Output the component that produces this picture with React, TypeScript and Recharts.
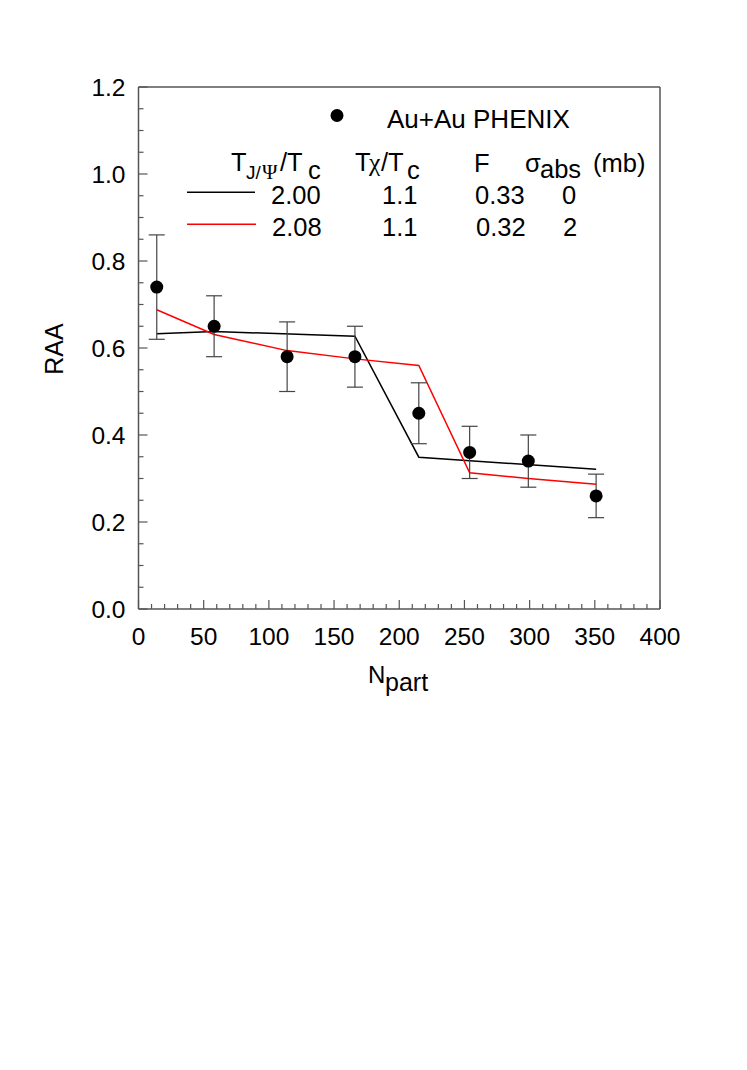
import React from "react";
import { ComposedChart, Line, Scatter, XAxis, YAxis, ErrorBar } from "recharts";

// ---- data ----
const nPart = [14, 58, 114, 166, 215, 254, 299, 351];
const raa = [0.74, 0.65, 0.58, 0.58, 0.45, 0.36, 0.34, 0.26];
const raaHigh = [0.86, 0.72, 0.66, 0.65, 0.52, 0.42, 0.4, 0.31];
const raaLow = [0.62, 0.58, 0.5, 0.51, 0.38, 0.3, 0.28, 0.21];

const blackN = [14, 58, 166, 215, 351];
const blackR = [0.633, 0.638, 0.627, 0.349, 0.321];

const redN = [14, 58, 114, 166, 215, 254, 299, 351];
const redR = [0.688, 0.631, 0.594, 0.575, 0.56, 0.313, 0.3, 0.287];

const xMajorTicks = [0, 50, 100, 150, 200, 250, 300, 350, 400];
const xTickLabels = ["0", "50", "100", "150", "200", "250", "300", "350", "400"];
const yMajorTicks = [0, 0.2, 0.4, 0.6, 0.8, 1.0, 1.2];
const yTickLabels = ["0.0", "0.2", "0.4", "0.6", "0.8", "1.0", "1.2"];
const xMinorStep = 10;
const yMinorStep = 0.05;

// ---- derived tables ----
const points = nPart.map((n, i) => ({
  n,
  r: raa[i],
  err: [raa[i] - raaLow[i], raaHigh[i] - raa[i]],
}));
const blackLine = blackN.map((n, i) => ({ n, r: blackR[i] }));
const redLine = redN.map((n, i) => ({ n, r: redR[i] }));

const xAllTicks: number[] = [];
for (let v = 0; v <= 400 + 1e-9; v += xMinorStep) xAllTicks.push(Math.round(v));
const yAllTicks: number[] = [];
for (let k = 0; k <= 24; k++) yAllTicks.push(Math.round(k * yMinorStep * 1000) / 1000);

const FONT = "'Liberation Sans', Arial, Helvetica, sans-serif";
const SERIF = "'Liberation Serif', 'DejaVu Serif', serif";
const AXIS_COLOR = "#555";
const MAJOR = 9;
const MINOR = 5;

const isMajor = (v: number, arr: number[]) => arr.findIndex((m) => Math.abs(m - v) < 1e-6);

// plot frame (pixels)
const PL = 138.5;
const PR = 660;
const PT = 87;
const PB = 609;

const BottomTick = (props: any) => {
  const { x, payload } = props;
  const y = PB;
  const idx = isMajor(payload.value, xMajorTicks);
  const len = idx >= 0 ? MAJOR : MINOR;
  return (
    <g>
      <line x1={x} y1={y} x2={x} y2={y - len} stroke={AXIS_COLOR} strokeWidth={1.2} />
      {idx >= 0 && (
        <text x={x} y={y + 36} textAnchor="middle" fontFamily={FONT} fontSize={24.5} fill="#000">
          {xTickLabels[idx]}
        </text>
      )}
    </g>
  );
};

const TopTick = (props: any) => {
  const { x, payload } = props;
  const y = PT;
  const idx = isMajor(payload.value, xMajorTicks);
  const len = idx >= 0 ? MAJOR : MINOR;
  return <line x1={x} y1={y} x2={x} y2={y + len} stroke={AXIS_COLOR} strokeWidth={1.2} />;
};

const LeftTick = (props: any) => {
  const { y, payload } = props;
  const x = PL;
  const idx = isMajor(payload.value, yMajorTicks);
  const len = idx >= 0 ? MAJOR : MINOR;
  return (
    <g>
      <line x1={x} y1={y} x2={x + len} y2={y} stroke={AXIS_COLOR} strokeWidth={1.2} />
      {idx >= 0 && (
        <text x={x - 13} y={y + 9} textAnchor="end" fontFamily={FONT} fontSize={24.5} fill="#000">
          {yTickLabels[idx]}
        </text>
      )}
    </g>
  );
};

const RightTick = (props: any) => {
  const { y, payload } = props;
  const x = PR;
  const idx = isMajor(payload.value, yMajorTicks);
  const len = idx >= 0 ? MAJOR : MINOR;
  return <line x1={x} y1={y} x2={x - len} y2={y} stroke={AXIS_COLOR} strokeWidth={1.2} />;
};

const Dot = (props: any) => {
  const { cx, cy } = props;
  if (cx == null || cy == null) return null;
  return <circle cx={cx} cy={cy} r={6.5} fill="#000" />;
};

const T = (p: { x: number; y: number; s?: number; f?: string; children: React.ReactNode }) => (
  <text x={p.x} y={p.y} fontFamily={p.f || FONT} fontSize={p.s || 25.5} fill="#000">
    {p.children}
  </text>
);

export default function App() {
  return (
    <div style={{ position: "absolute", left: 0, top: 0, width: 747, height: 1070, background: "#fff" }}>
      <ComposedChart
        width={747}
        height={1070}
        margin={{ top: PT - 1, left: PL - 1, right: 747 - PR - 1, bottom: 1070 - PB - 1 }}
      >
        <XAxis
          xAxisId="main"
          dataKey="n"
          type="number"
          domain={[0, 400]}
          ticks={xAllTicks}
          interval={0}
          height={1}
          tickSize={0}
          tickMargin={0}
          tickLine={false}
          axisLine={{ stroke: AXIS_COLOR, strokeWidth: 1.5 }}
          tick={<BottomTick />}
        />
        <XAxis
          xAxisId="top"
          orientation="top"
          type="number"
          domain={[0, 400]}
          ticks={xAllTicks}
          interval={0}
          height={1}
          tickSize={0}
          tickMargin={0}
          tickLine={false}
          axisLine={{ stroke: AXIS_COLOR, strokeWidth: 1.5 }}
          tick={<TopTick />}
        />
        <YAxis
          yAxisId="main"
          dataKey="r"
          type="number"
          domain={[0, 1.2]}
          ticks={yAllTicks}
          interval={0}
          width={1}
          tickSize={0}
          tickMargin={0}
          tickLine={false}
          axisLine={{ stroke: AXIS_COLOR, strokeWidth: 1.5 }}
          tick={<LeftTick />}
        />
        <YAxis
          yAxisId="right"
          orientation="right"
          type="number"
          domain={[0, 1.2]}
          ticks={yAllTicks}
          interval={0}
          width={1}
          tickSize={0}
          tickMargin={0}
          tickLine={false}
          axisLine={{ stroke: AXIS_COLOR, strokeWidth: 1.5 }}
          tick={<RightTick />}
        />
        <Line
          xAxisId="main"
          yAxisId="main"
          data={blackLine}
          dataKey="r"
          type="linear"
          stroke="#000"
          strokeWidth={1.5}
          dot={false}
          activeDot={false}
          isAnimationActive={false}
        />
        <Line
          xAxisId="main"
          yAxisId="main"
          data={redLine}
          dataKey="r"
          type="linear"
          stroke="#ff0000"
          strokeWidth={1.5}
          dot={false}
          activeDot={false}
          isAnimationActive={false}
        />
        <Scatter
          xAxisId="main"
          yAxisId="main"
          data={points}
          dataKey="r"
          shape={<Dot />}
          isAnimationActive={false}
        >
          <ErrorBar dataKey="err" direction="y" width={8} stroke="#444" strokeWidth={1.2} isAnimationActive={false} />
        </Scatter>
      </ComposedChart>

      <svg
        width={747}
        height={1070}
        style={{ position: "absolute", left: 0, top: 0, pointerEvents: "none" }}
      >
        {/* legend: data */}
        <circle cx={337} cy={115.5} r={6.5} fill="#000" />
        <T x={387} y={128} s={26}>Au+Au PHENIX</T>

        {/* header row */}
        <T x={231} y={171}>T</T>
        <T x={246} y={179} s={19}>J/</T>
        <T x={262} y={179} s={21} f={SERIF}>Ψ</T>
        <T x={280} y={171}>/T</T>
        <T x={308} y={179}>c</T>

        <T x={355} y={171}>T</T>
        <T x={369} y={171} f={SERIF}>χ</T>
        <T x={381} y={171}>/T</T>
        <T x={407} y={179}>c</T>

        <T x={474} y={172}>F</T>

        <T x={525} y={172}>σ</T>
        <T x={540} y={178}>abs</T>
        <T x={593} y={172}>(mb)</T>

        {/* row 1 */}
        <line x1={187} y1={192.3} x2={255} y2={192.3} stroke="#000" strokeWidth={1.5} />
        <T x={271} y={204}>2.00</T>
        <T x={382} y={204}>1.1</T>
        <T x={475} y={204}>0.33</T>
        <T x={562} y={204}>0</T>

        {/* row 2 */}
        <line x1={187} y1={224.3} x2={256} y2={224.3} stroke="#ff0000" strokeWidth={1.5} />
        <T x={272} y={236}>2.08</T>
        <T x={382} y={236}>1.1</T>
        <T x={476} y={236}>0.32</T>
        <T x={563} y={236}>2</T>

        {/* axis titles */}
        <text x={368} y={683} fontFamily={FONT} fontSize={24} fill="#000">N</text>
        <text x={385} y={691} fontFamily={FONT} fontSize={25} fill="#000">part</text>
        <text
          x={63}
          y={349}
          transform="rotate(-90 63 349)"
          textAnchor="middle"
          fontFamily={FONT}
          fontSize={25}
          fill="#000"
        >
          RAA
        </text>
      </svg>
    </div>
  );
}
